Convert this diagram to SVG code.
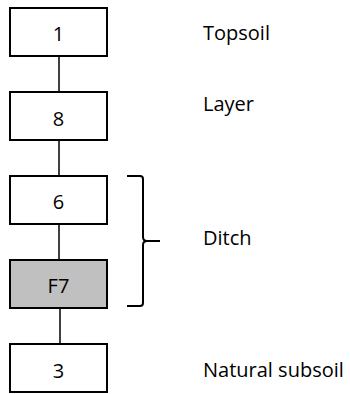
<svg xmlns="http://www.w3.org/2000/svg" width="350" height="394" viewBox="0 0 350 394">
  <style>
    .box { fill: #ffffff; stroke: #000000; stroke-width: 2; }
    .box.fill { fill: #c0c0c0; }
    .num { font-family: "Open Sans", "Liberation Sans", sans-serif; font-size: 20px; fill: #000000; text-anchor: middle; }
    .label { font-family: "Open Sans", "Liberation Sans", sans-serif; font-size: 20px; fill: #000000; }
    .link { stroke: #000000; stroke-width: 1.5; fill: none; }
    .brace { stroke: #000000; stroke-width: 2; fill: none; }
  </style>
  <rect width="350" height="394" fill="#ffffff"/>

  <!-- vertical links between contexts -->
  <g id="connectors">
    <line class="link" x1="59" y1="56" x2="59" y2="92"/>
    <line class="link" x1="59" y1="140" x2="59" y2="176"/>
    <line class="link" x1="59" y1="224" x2="59" y2="260"/>
    <line class="link" x1="60" y1="308" x2="60" y2="344"/>
  </g>

  <g id="ctx-1">
    <rect class="box" x="10" y="8" width="97" height="48"/>
    <text class="num" x="58.5" y="41">1</text>
  </g>
  <g id="ctx-8">
    <rect class="box" x="10" y="92" width="97" height="48"/>
    <text class="num" x="58.5" y="126">8</text>
  </g>
  <g id="ctx-6">
    <rect class="box" x="10" y="176" width="97" height="48"/>
    <text class="num" x="58.5" y="209">6</text>
  </g>
  <g id="ctx-F7">
    <rect class="box fill" x="10" y="260" width="97" height="48"/>
    <text class="num" x="58.5" y="293">F7</text>
  </g>
  <g id="ctx-3">
    <rect class="box" x="10" y="344" width="97" height="48"/>
    <text class="num" x="58.5" y="378">3</text>
  </g>

  <!-- bracket grouping 6 and F7 -->
  <g id="ditch-brace">
    <path class="brace" d="M127 176 L140 176 Q143 176 143 179 L143 237 Q143 241 147 241 L160 241 M147 241 Q143 241 143 245 L143 303 Q143 306 140 306 L127 306"/>
  </g>

  <g id="labels">
    <text class="label" x="203" y="40">Topsoil</text>
    <text class="label" x="203" y="111">Layer</text>
    <text class="label" x="203" y="245">Ditch</text>
    <text class="label" x="203" y="377">Natural subsoil</text>
  </g>
</svg>
